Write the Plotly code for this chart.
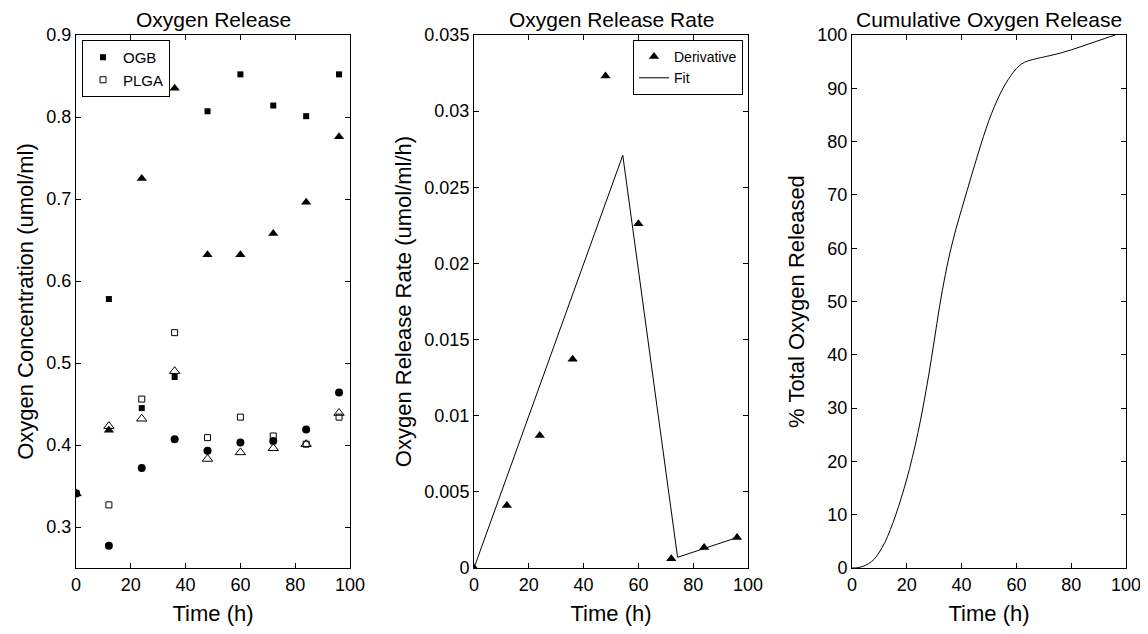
import plotly.graph_objects as go

# ---------------- data ----------------
time_h = [0, 12, 24, 36, 48, 60, 72, 84, 96]

ogb_square = [0.341, 0.578, 0.445, 0.483, 0.807, 0.852, 0.814, 0.801, 0.852]
plga_square = [0.341, 0.327, 0.456, 0.537, 0.409, 0.434, 0.411, 0.401, 0.434]
filled_triangle = [0.341, 0.418, 0.725, 0.835, 0.632, 0.632, 0.658, 0.696, 0.776]
open_triangle = [0.341, 0.423, 0.432, 0.490, 0.383, 0.391, 0.396, 0.401, 0.439]
filled_circle = [0.341, 0.277, 0.372, 0.407, 0.393, 0.403, 0.405, 0.419, 0.464]

deriv_time = [0, 12, 24, 36, 48, 60, 72, 84, 96]
deriv_rate = [0.0, 0.0041, 0.0087, 0.0137, 0.0323, 0.0226, 0.0006, 0.00135, 0.0020]

fit_time = [0, 54.3, 74.3, 96]
fit_rate = [0.0, 0.0271, 0.0007, 0.0020]

cum_time = [0, 2, 4, 6, 8, 10, 12, 14, 16, 18, 20, 22, 24, 26, 28, 30, 32, 34, 36,
            38, 40, 42, 44, 46, 48, 50, 52, 54, 56, 58, 60, 62, 64, 66, 68, 72, 76,
            80, 84, 88, 92, 96]
cum_pct = [0, 0.05, 0.3, 0.8, 1.6, 3.0, 4.8, 7.2, 10.0, 13.2, 16.7, 20.7, 25.2,
           30.4, 36.2, 42.6, 49.2, 54.9, 59.7, 63.7, 67.3, 70.8, 74.3, 77.7,
           81.0, 84.0, 86.6, 88.9, 90.8, 92.4, 93.7, 94.6, 95.1, 95.4, 95.65,
           96.1, 96.6, 97.2, 97.9, 98.6, 99.3, 100]

# ---------------- figure ----------------
OFF = 8            # page body margin offset
W, H = 1148 - OFF, 634 - 2 * OFF
FONT = "Liberation Sans, Arial, Helvetica, sans-serif"
BLACK = "#000000"

def px_x(p):
    return (p - OFF) / W

def px_y(p):
    return 1 - (p - OFF) / H

dom_y = [px_y(568), px_y(35)]
dom_x1 = [px_x(76), px_x(350)]
dom_x2 = [px_x(474), px_x(748)]
dom_x3 = [px_x(852), px_x(1126)]

fig = go.Figure()

# Panel 1
fig.add_trace(go.Scatter(x=time_h, y=filled_circle, mode="markers", showlegend=False,
                         marker=dict(symbol="circle", size=8, color=BLACK),
                         xaxis="x", yaxis="y"))
fig.add_trace(go.Scatter(x=time_h, y=open_triangle, mode="markers", showlegend=False,
                         marker=dict(symbol="triangle-up-open", size=9, color=BLACK,
                                     line=dict(width=1, color=BLACK)),
                         xaxis="x", yaxis="y"))
fig.add_trace(go.Scatter(x=time_h, y=filled_triangle, mode="markers", showlegend=False,
                         marker=dict(symbol="triangle-up", size=9, color=BLACK),
                         xaxis="x", yaxis="y"))
fig.add_trace(go.Scatter(x=time_h, y=ogb_square, mode="markers", name="OGB",
                         marker=dict(symbol="square", size=6, color=BLACK),
                         xaxis="x", yaxis="y", legend="legend"))
fig.add_trace(go.Scatter(x=time_h, y=plga_square, mode="markers", name="PLGA",
                         marker=dict(symbol="square-open", size=6, color=BLACK,
                                     line=dict(width=1, color=BLACK)),
                         xaxis="x", yaxis="y", legend="legend"))

# Panel 2
fig.add_trace(go.Scatter(x=deriv_time, y=deriv_rate, mode="markers", name="Derivative",
                         marker=dict(symbol="triangle-up", size=9, color=BLACK),
                         xaxis="x2", yaxis="y2", legend="legend2"))
fig.add_trace(go.Scatter(x=fit_time, y=fit_rate, mode="lines", name="Fit",
                         line=dict(color=BLACK, width=1),
                         xaxis="x2", yaxis="y2", legend="legend2"))

# Panel 3
fig.add_trace(go.Scatter(x=cum_time, y=cum_pct, mode="lines", showlegend=False,
                         line=dict(color=BLACK, width=1, shape="spline", smoothing=1.0),
                         xaxis="x3", yaxis="y3"))

axis_common = dict(showline=True, linecolor=BLACK, linewidth=1, mirror="ticks",
                   ticks="inside", ticklen=5, tickcolor=BLACK, tickwidth=1,
                   showgrid=False, zeroline=False, automargin=False,
                   tickfont=dict(family=FONT, size=18, color=BLACK))

def xax(domain, anchor):
    return dict(axis_common, domain=domain, anchor=anchor, range=[0, 100], dtick=20,
                title=dict(text="Time (h)", font=dict(family=FONT, size=22, color=BLACK),
                           standoff=12))

fig.update_layout(
    width=W, height=H,
    margin=dict(l=0, r=0, t=0, b=0),
    paper_bgcolor="white", plot_bgcolor="white",
    font=dict(family=FONT, color=BLACK),
    xaxis=xax(dom_x1, "y"),
    xaxis2=xax(dom_x2, "y2"),
    xaxis3=xax(dom_x3, "y3"),
    yaxis=dict(axis_common, domain=dom_y, anchor="x", range=[0.25, 0.9], dtick=0.1,
               title=dict(text="Oxygen Concentration (umol/ml)",
                          font=dict(family=FONT, size=22, color=BLACK), standoff=6)),
    yaxis2=dict(axis_common, domain=dom_y, anchor="x2", range=[0, 0.035], dtick=0.005,
                title=dict(text="Oxygen Release Rate (umol/ml/h)",
                           font=dict(family=FONT, size=22, color=BLACK), standoff=6)),
    yaxis3=dict(axis_common, domain=dom_y, anchor="x3", range=[0, 100], dtick=10,
                title=dict(text="% Total Oxygen Released",
                           font=dict(family=FONT, size=22, color=BLACK), standoff=6)),
    legend=dict(x=px_x(82), y=px_y(40), xanchor="left", yanchor="top",
                bgcolor="white", bordercolor=BLACK, borderwidth=1,
                font=dict(family=FONT, size=15, color=BLACK),
                itemwidth=30, tracegroupgap=0),
    legend2=dict(x=px_x(743), y=px_y(40), xanchor="right", yanchor="top",
                 bgcolor="white", bordercolor=BLACK, borderwidth=1,
                 font=dict(family=FONT, size=14, color=BLACK),
                 itemwidth=30, tracegroupgap=0),
)

titles = [("Oxygen Release", (76 + 350) / 2),
          ("Oxygen Release Rate", (474 + 748) / 2),
          ("Cumulative Oxygen Release", (852 + 1126) / 2)]
for text, cx in titles:
    fig.add_annotation(text=text, x=px_x(cx), y=px_y(20), xref="paper", yref="paper",
                       xanchor="center", yanchor="middle", showarrow=False,
                       font=dict(family=FONT, size=21, color=BLACK))

fig.write_html("out.html")
